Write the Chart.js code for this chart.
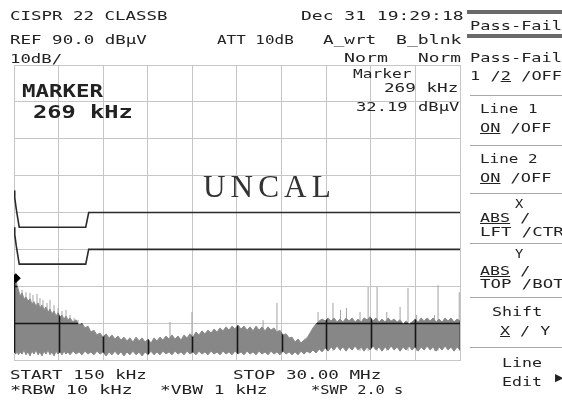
<!DOCTYPE html>
<html>
<head>
<meta charset="utf-8">
<script src="https://cdn.jsdelivr.net/npm/chart.js@4/dist/chart.umd.min.js"></script>
<style>
  html,body{margin:0;padding:0;background:#fff;}
  #wrap{position:relative;width:562px;height:401px;overflow:hidden;background:#fff;}
  #c{position:absolute;left:0;top:0;}
  .t{position:absolute;white-space:pre;color:#222;font-family:"DejaVu Sans Mono",monospace;transform-origin:0 0;}
  .bar{position:absolute;background:#6a6a6a;}
  .sep{position:absolute;height:1px;background:#a8a8a8;}
</style>
</head>
<body>
<div id="wrap">
<canvas id="c" width="562" height="401"></canvas>
</div>
<script>
// ---------- data ----------
const freqMHz = [
 0.15,0.27,0.35,0.45,0.55,0.69,0.82,0.95,1.09,1.22,
 1.35,1.49,1.62,1.76,1.89,2.02,2.16,2.29,2.43,2.56,
 2.69,2.83,2.96,3.10,3.23,3.36,3.50,3.63,3.76,3.90,
 4.10,4.30,4.50,4.70,4.90,5.10,5.30,5.50,5.70,5.91,
 6.11,6.31,6.51,6.71,6.91,7.11,7.31,7.51,7.71,7.91,
 8.11,8.32,8.52,8.72,8.92,9.12,9.32,9.52,9.72,9.92,
 10.12,10.32,10.52,10.72,10.93,11.13,11.33,11.53,11.73,11.93,
 12.13,12.33,12.53,12.73,12.93,13.13,13.34,13.54,13.74,13.94,
 14.14,14.34,14.54,14.74,14.94,15.14,15.34,15.54,15.75,15.95,
 16.15,16.35,16.55,16.75,16.95,17.15,17.35,17.55,17.75,17.95,
 18.15,18.36,18.56,18.76,18.96,19.16,19.36,19.56,19.76,19.96,
 20.16,20.37,20.57,20.77,20.97,21.17,21.37,21.57,21.77,21.97,
 22.17,22.37,22.57,22.78,22.98,23.18,23.38,23.58,23.78,23.98,
 24.18,24.38,24.58,24.78,24.99,25.19,25.39,25.59,25.79,25.99,
 26.19,26.39,26.59,26.79,27.00,27.20,27.40,27.60,27.80,28.00,
 28.20,28.40,28.60,28.80,29.00,29.20,29.40,29.60,29.80,30.00
];
const traceTop = [
 30.9,32.2,30.3,29.0,27.4,28.2,26.6,27.1,26.0,26.6,
 25.2,25.8,24.6,25.5,24.1,24.9,23.6,24.4,23.0,23.8,
 22.5,23.3,21.9,22.8,21.7,22.2,21.1,21.9,20.9,21.4,
 20.3,20.9,19.5,20.0,18.7,19.2,17.6,18.1,16.8,17.3,
 16.2,17.1,16.0,16.8,15.7,16.5,15.4,16.2,15.2,16.0,
 14.9,16.2,15.2,16.0,14.9,15.7,14.6,16.0,15.2,16.2,
 15.4,16.5,15.7,16.8,15.7,16.5,15.4,16.8,16.0,17.1,
 16.2,17.6,16.8,17.9,17.1,18.1,17.3,18.4,17.6,18.7,
 17.9,19.0,18.1,19.2,18.4,19.5,18.4,19.2,18.1,19.0,
 17.9,19.2,18.1,19.0,17.9,19.0,18.1,18.7,17.6,18.1,
 16.8,17.1,16.0,16.2,14.9,15.7,14.6,15.4,16.0,17.3,
 18.7,19.8,20.6,21.1,20.6,21.4,20.6,21.4,20.3,21.1,
 20.3,21.4,20.6,21.4,20.3,21.1,20.3,21.4,20.9,21.7,
 20.6,21.4,20.3,21.1,20.3,21.4,20.6,21.1,20.3,20.9,
 19.8,20.6,19.8,20.3,21.1,20.3,21.4,20.6,21.4,20.6,
 21.4,20.3,21.1,20.3,21.4,20.6,21.4,20.3,21.1,20.6
];
const traceBottom = [
 12.2,11.6,12.4,11.4,12.2,11.6,12.7,11.4,12.2,11.1,
 12.4,11.6,12.7,11.4,12.2,11.1,12.4,11.6,12.7,11.4,
 12.2,11.1,12.4,11.6,12.2,11.4,12.4,11.6,12.2,11.4,
 12.4,11.6,12.2,11.4,12.4,11.6,12.2,11.4,12.4,11.6,
 12.2,11.1,12.2,11.4,12.4,11.4,12.2,11.1,12.2,11.4,
 12.4,11.4,12.2,11.1,12.2,11.4,12.4,11.4,12.2,11.4,
 12.4,11.6,12.2,11.4,12.4,11.6,12.2,11.4,12.4,11.6,
 12.2,11.4,12.4,11.6,12.2,11.4,12.4,11.6,12.2,11.4,
 12.4,11.6,12.2,11.4,12.4,11.6,12.2,11.4,12.4,11.6,
 12.2,11.4,12.4,11.6,12.2,11.4,12.4,11.6,12.2,11.4,
 12.4,11.6,12.2,11.4,12.2,11.4,12.4,11.6,12.4,11.9,
 12.7,11.9,13.0,12.2,13.3,12.4,13.5,12.7,13.8,12.7,
 13.5,12.4,13.5,12.7,13.8,12.7,13.5,12.4,13.5,12.7,
 13.8,12.7,13.5,12.4,13.5,12.7,13.8,12.7,13.5,12.4,
 13.5,12.7,13.8,12.7,13.5,12.4,13.5,12.7,13.8,12.7,
 13.5,12.4,13.5,12.7,13.8,12.7,13.5,12.4,13.5,12.7
];
const spikeMHz = [0.69,0.95,1.22,1.42,1.69,1.89,2.09,2.36,2.56,2.83,3.10,3.36,3.63,3.90,4.17,4.43,
                  10.59,12.06,16.82,17.75,20.5,21.5,22.0,22.4,23.31,23.85,24.45,25.1,25.99,26.52,27.1,28.3,28.53,29.95];
const spikeTop = [29.0,28.4,28.2,27.6,27.9,26.8,26.3,25.5,26.3,24.9,24.1,23.3,23.6,22.2,21.4,20.9,
                  20.3,23.0,20.8,25.5,23.0,25.5,23.6,24.1,23.0,29.8,29.8,23.0,24.4,29.5,22.2,22.2,30.3,28.4];
const spikeBase = 12.5;
const limitMHz = [0.15,0.2,0.3,0.4,0.5,4.95,5.15,30];
const limit1dB = [56,54,51,48.5,46,46,50,50];
const limit2dB = [46,44,41,38.5,36,36,40,40];
const markerMHz = 0.269, markerdBuV = 32.19;
const xGridMHz = [0.15,3.135,6.12,9.105,12.09,15.075,18.06,21.045,24.03,27.015,30];
const refLevel = 90, bottomLevel = 10, dBperDiv = 10;

// ---------- build chart ----------
const pts = (xs, ys) => xs.map((x,i)=>({x:x, y:ys[i]}));
const spikePts = [];
spikeMHz.forEach((f,i)=>{ spikePts.push({x:f,y:spikeBase},{x:f,y:spikeTop[i]},{x:f,y:null}); });

const overTrace = {
  id:'overTrace',
  afterDatasetDraw(chart, args){
    if(args.index !== 2) return;
    const up = chart.getDatasetMeta(2).data, lo = chart.getDatasetMeta(1).data;
    const ctx = chart.ctx, a = chart.chartArea, xs = chart.scales.x, ys = chart.scales.y;
    ctx.save();
    ctx.beginPath();
    up.forEach((p,i)=> i ? ctx.lineTo(p.x,p.y) : ctx.moveTo(p.x,p.y));
    for(let i=lo.length-1;i>=0;i--) ctx.lineTo(lo[i].x, lo[i].y);
    ctx.closePath();
    ctx.clip();
    ctx.strokeStyle = '#151515';
    ctx.lineWidth = 1.6;
    ctx.beginPath();
    xs.ticks.forEach(t=>{ const px = Math.round(xs.getPixelForValue(t.value))+0.5; ctx.moveTo(px,a.top); ctx.lineTo(px,a.bottom); });
    ys.ticks.forEach(t=>{ const py = Math.round(ys.getPixelForValue(t.value))+0.5; ctx.moveTo(a.left,py); ctx.lineTo(a.right,py); });
    ctx.stroke();
    ctx.restore();
  }
};

new Chart(document.getElementById('c'), {
  type:'line',
  data:{ datasets:[
    { label:'spikes', data:spikePts, borderColor:'#a2a2a2', borderWidth:1, pointRadius:0, spanGaps:false, fill:false, order:5 },
    { label:'trace low', data:pts(freqMHz,traceBottom), borderColor:'#8c8c8c', borderWidth:1, pointRadius:0, fill:false, order:4 },
    { label:'trace', data:pts(freqMHz,traceTop), borderColor:'#8c8c8c', borderWidth:1, pointRadius:0, fill:'-1', backgroundColor:'#878787', order:3 },
    { label:'Line 1', data:pts(limitMHz,limit1dB), borderColor:'#2a2a2a', borderWidth:1.6, pointRadius:0, fill:false, order:2 },
    { label:'Line 2', data:pts(limitMHz,limit2dB), borderColor:'#2a2a2a', borderWidth:1.6, pointRadius:0, fill:false, order:1 },
    { label:'Marker', data:[{x:markerMHz,y:markerdBuV}], pointStyle:'rectRot', pointRadius:4.5, backgroundColor:'#000', borderColor:'#000', showLine:false, order:0 }
  ]},
  options:{
    responsive:false, animation:false, devicePixelRatio:1,
    parsing:true,
    layout:{ padding:{ left:14, top:65, right:102, bottom:41 } },
    plugins:{ legend:{display:false}, tooltip:{enabled:false}, title:{display:false} },
    elements:{ line:{ tension:0 } },
    scales:{
      x:{ type:'linear', min:xGridMHz[0], max:xGridMHz[xGridMHz.length-1],
          afterBuildTicks:(s)=>{ s.ticks = xGridMHz.map(v=>({value:v})); },
          ticks:{display:false}, grid:{color:'#c6c6c6', lineWidth:1, drawTicks:false},
          border:{display:true, color:'#c6c6c6', width:1} },
      y:{ type:'linear', min:bottomLevel, max:refLevel,
          ticks:{display:false, stepSize:dBperDiv}, grid:{color:'#c6c6c6', lineWidth:1, drawTicks:false},
          border:{display:true, color:'#c6c6c6', width:1} }
    }
  },
  plugins:[overTrace]
});

// ---------- screen texts ----------
const wrap = document.getElementById('wrap');
function label(html, x, base, w, size, extra){
  const d = document.createElement('div');
  d.className = 't';
  d.innerHTML = html;
  const f = size || 12;
  d.style.fontSize = f + 'px';
  d.style.lineHeight = f + 'px';
  d.style.left = x + 'px';
  d.style.top = (base - 0.845*f) + 'px';
  if(extra) Object.assign(d.style, extra);
  wrap.appendChild(d);
  if(w){ const nw = d.offsetWidth; if(nw>0) d.style.transform = 'scaleX(' + (w/nw) + ')'; }
  return d;
}
function box(cls, x, y, w, h){
  const d = document.createElement('div'); d.className = cls;
  d.style.left = x+'px'; d.style.top = y+'px'; d.style.width = w+'px'; if(h) d.style.height = h+'px';
  wrap.appendChild(d);
}

label('CISPR 22 CLASSB', 10, 20, 157);
label('Dec 31 19:29:18', 301, 20, 162);
label('REF 90.0 dBµV', 10, 44, 137);
label('ATT 10dB', 217, 44, 77);
label('A_wrt', 323, 44, 53);
label('B_blnk', 396, 44, 65);
label('10dB/', 10, 63, 52);
label('Norm', 344, 62, 44);
label('Norm', 418, 62, 43);
label('Marker', 353, 78, 58);
label('269 kHz', 384, 92, 75);
label('32.19 dBµV', 356, 111, 103);
label('MARKER', 22, 97, 81, 18, {fontWeight:'bold'});
label('269 kHz', 33, 118, 100, 18, {fontWeight:'bold'});
label('UNCAL', 203, 197, 133, 31, {fontFamily:'"Liberation Serif",serif', letterSpacing:'5px', color:'#333'});
label('START 150 kHz', 10, 379, 137);
label('STOP 30.00 MHz', 233, 379, 148);
label('*RBW 10 kHz', 10, 394, 122);
label('*VBW 1 kHz', 160, 394, 107);
label('*SWP 2.0 s', 311, 394, 92);

// soft key panel
box('bar', 467, 10, 95, 4);
box('bar', 467, 34, 95, 4);
label('Pass-Fail', 470, 30, 92);
label('Pass-Fail', 470, 62, 92);
label('1 /<u>2</u> /OFF', 470, 80, 92);
box('sep', 470, 95, 92);
label('Line 1', 480, 113, 57);
label('<u>ON</u> /OFF', 480, 132, 72);
box('sep', 470, 145, 92);
label('Line 2', 480, 163, 57);
label('<u>ON</u> /OFF', 480, 182, 72);
box('sep', 470, 193, 92);
label('X', 515, 208, 8);
label('<u>ABS</u> /', 480, 222, 50);
label('LFT /CTR', 480, 236, 84);
box('sep', 470, 243, 92);
label('Y', 515, 258, 8);
label('<u>ABS</u> /', 480, 275, 50);
label('TOP /BOT', 480, 288, 84);
box('sep', 470, 297, 92);
label('Shift', 492, 316, 50);
label('<u>X</u> / Y', 500, 335, 50);
box('sep', 470, 347, 92);
label('Line', 502, 367, 40);
label('Edit', 502, 386, 40);
label('▶', 555, 381, 8, 11, {fontFamily:'"DejaVu Sans",sans-serif'});
</script>
</body>
</html>
